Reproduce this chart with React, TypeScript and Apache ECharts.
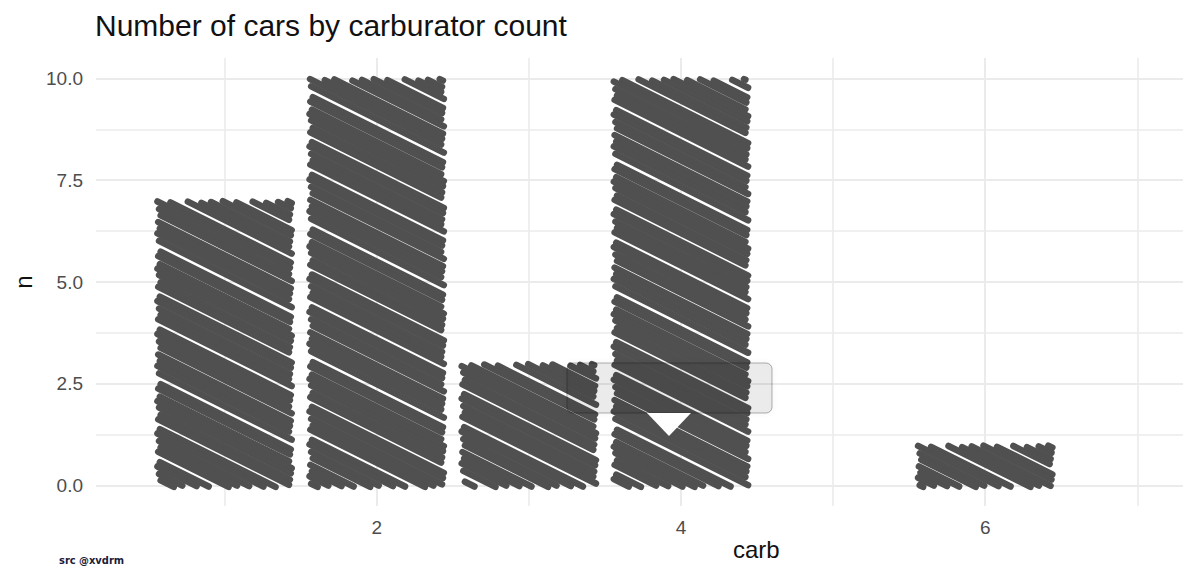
import React, { useEffect, useRef } from "react";
import * as echarts from "echarts";

// ---- data ----
const carbs = [1, 2, 3, 4, 6];
const counts = [7, 10, 3, 10, 1];
const yTickValues = [0, 2.5, 5, 7.5, 10];
const yMinorValues = [1.25, 3.75, 6.25, 8.75];
const xTickValues = [2, 4, 6];
const xMinorValues = [1, 3, 5, 7];

const TITLE = "Number of cars by carburator count";
const X_NAME = "carb";
const Y_NAME = "n";
const SOURCE = "src @xvdrm";

// ---- style ----
const BAR_HALF = 0.45;
const BAR_COLOR = "#505050";
const GRID_COLOR = "#ebebeb";
const ANG = Math.atan(0.5);
const STEPS = [5, 6, 5, 8, 5, 6, 5, 5, 8.5, 5, 6, 5, 7, 5, 5.5, 6, 9, 5, 6.5, 5];
const FONT = "Liberation Sans, Arial, sans-serif";

const renderItem = (params: any, api: any) => {
  const x = api.value(0);
  const v = api.value(1);
  const tl = api.coord([x - BAR_HALF, v]);
  const br = api.coord([x + BAR_HALF, 0]);
  const x0 = tl[0], y0 = tl[1], x1 = br[0], y1 = br[1] + 2;
  const dx = Math.cos(ANG), dy = Math.sin(ANG);
  const cs = [[x0, y0], [x1, y0], [x0, y1], [x1, y1]].map(([px, py]) => -dy * px + dx * py);
  const cmin = Math.min(...cs), cmax = Math.max(...cs);
  const children: any[] = [];
  let i = params.dataIndex * 5;
  let c = cmin + 3;
  while (c < cmax - 1) {
    const ta = (x0 + c * dy) / dx, tb = (x1 + c * dy) / dx;
    const tc = (y0 - c * dx) / dy, td = (y1 - c * dx) / dy;
    const tmin = Math.max(Math.min(ta, tb), Math.min(tc, td));
    const tmax = Math.min(Math.max(ta, tb), Math.max(tc, td));
    if (tmax - tmin > 0.5) {
      const trimA = 1.5 + ((i * 37) % 5) * 0.9;
      const trimB = 1.5 + ((i * 53) % 4) * 1.0;
      let s = tmin + trimA;
      let e = tmax - trimB;
      if (e < s) { s = e = (tmin + tmax) / 2; }
      children.push({
        type: "line",
        shape: { x1: -c * dy + s * dx, y1: c * dx + s * dy, x2: -c * dy + e * dx, y2: c * dx + e * dy },
        style: { stroke: BAR_COLOR, lineWidth: 6.5, lineCap: "round" },
      });
    }
    c += STEPS[i % STEPS.length];
    i++;
  }
  return { type: "group", children };
};

export default function App() {
  const ref = useRef<HTMLDivElement>(null);
  useEffect(() => {
    if (!ref.current) return;
    const chart = echarts.init(ref.current, undefined, { renderer: "svg" });
    const gridLine = { color: GRID_COLOR, type: "solid", width: 2 };
    const minorLine = { color: GRID_COLOR, type: "solid", width: 1.6 };
    chart.setOption({
      animation: false,
      backgroundColor: "#ffffff",
      textStyle: { fontFamily: FONT },
      title: {
        text: TITLE,
        left: 95,
        top: 10,
        padding: 0,
        textStyle: { fontSize: 30, fontWeight: "normal", color: "#111111", fontFamily: FONT },
      },
      grid: { left: 96, right: 17, top: 58, bottom: 78, containLabel: false },
      xAxis: {
        type: "value",
        min: 0.155,
        max: 7.3,
        axisLine: { show: false },
        axisTick: { show: false },
        splitLine: { show: false },
        axisLabel: {
          customValues: xTickValues,
          formatter: (v: number) => String(v),
          color: "#4d4d4d",
          fontSize: 19,
          margin: 12,
          fontFamily: FONT,
        },
      },
      yAxis: {
        type: "value",
        min: -0.5,
        max: 10.5,
        name: Y_NAME,
        nameLocation: "middle",
        nameGap: 60,
        nameTextStyle: { fontSize: 24, color: "#111111", fontFamily: FONT },
        axisLine: { show: false },
        axisTick: { show: false },
        splitLine: { show: false },
        axisLabel: {
          customValues: yTickValues,
          formatter: (v: number) => v.toFixed(1),
          color: "#4d4d4d",
          fontSize: 19,
          margin: 13,
          fontFamily: FONT,
        },
      },
      series: [
        {
          type: "line",
          data: [],
          z: 0,
          silent: true,
          markLine: {
            silent: true,
            symbol: "none",
            label: { show: false },
            data: [
              ...yMinorValues.map((v) => ({ yAxis: v, lineStyle: minorLine })),
              ...xMinorValues.map((v) => ({ xAxis: v, lineStyle: minorLine })),
              ...yTickValues.map((v) => ({ yAxis: v, lineStyle: gridLine })),
              ...xTickValues.map((v) => ({ xAxis: v, lineStyle: gridLine })),
            ],
          },
        },
        {
          type: "custom",
          z: 5,
          renderItem,
          data: carbs.map((c, k) => [c, counts[k]]),
        },
      ],
      graphic: [
        {
          type: "text",
          left: 733,
          top: 537,
          style: { text: X_NAME, fontSize: 24, fill: "#111111", fontFamily: FONT },
          z: 10,
        },
        {
          type: "text",
          left: 59,
          top: 555,
          style: {
            text: SOURCE,
            fontSize: 11,
            fontWeight: "bold",
            fill: "#1b1b3a",
            fontFamily: "DejaVu Sans Condensed, DejaVu Sans, sans-serif",
          },
          z: 10,
        },
        {
          type: "rect",
          shape: { x: 567, y: 363, width: 205, height: 50, r: 6 },
          style: {
            fill: "rgba(0,0,0,0.06)",
            stroke: "rgba(0,0,0,0.3)",
            lineWidth: 1,
            shadowBlur: 5,
            shadowColor: "rgba(0,0,0,0.3)",
          },
          z: 20,
        },
        {
          type: "polygon",
          shape: { points: [[647, 413], [691, 413], [669, 436]] },
          style: { fill: "#ffffff" },
          z: 21,
        },
      ],
    });
    return () => chart.dispose();
  }, []);
  return (
    <div
      ref={ref}
      style={{ position: "fixed", left: 0, top: 0, width: 1200, height: 584, background: "#fff" }}
    />
  );
}
